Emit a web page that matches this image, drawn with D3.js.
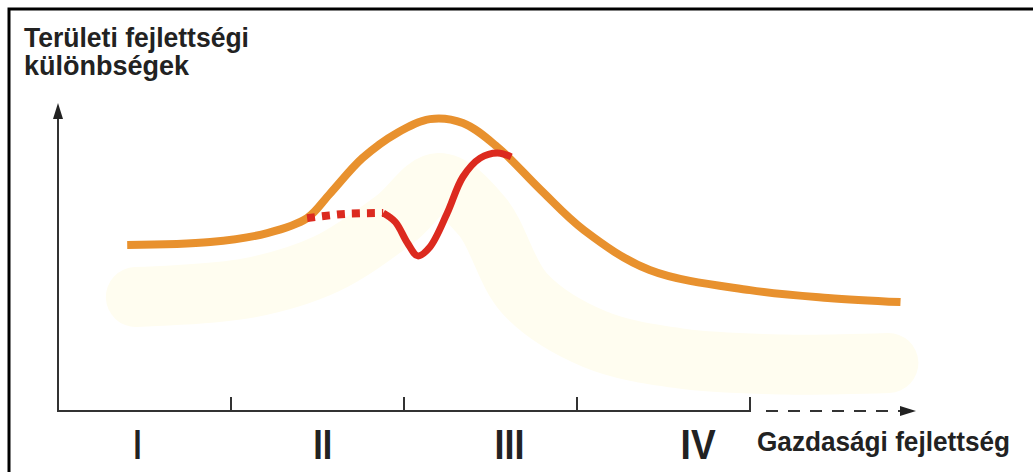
<!DOCTYPE html>
<html>
<head>
<meta charset="utf-8">
<script src="https://cdn.jsdelivr.net/npm/d3@7"></script>
<style>
  body { margin: 0; background: #fff; }
  svg { display: block; }
  text { font-family: "Liberation Sans Narrow", "Arial Narrow", "Liberation Sans", Arial, sans-serif; font-weight: bold; fill: #222; }
</style>
</head>
<body>
<div id="drawing"></div>
<script>
// Chart data (x in development stages, y in relative disparity units)
const orangeX = [0.40, 0.88, 1.21, 1.44, 1.57, 1.76, 1.96, 2.15, 2.34, 2.54, 2.79, 3.04, 3.42, 4.00, 4.45, 4.87];
const orangeY = [5.53, 5.63, 5.93, 6.43, 7.23, 8.43, 9.27, 9.73, 9.60, 8.80, 7.37, 6.03, 4.70, 4.03, 3.77, 3.63];

const redDotX = [1.44, 1.66, 1.88];
const redDotY = [6.43, 6.57, 6.60];

const redX = [1.88, 1.95, 2.02, 2.08, 2.15, 2.25, 2.34, 2.44, 2.54, 2.62];
const redY = [6.60, 6.30, 5.60, 5.17, 5.47, 6.60, 7.80, 8.43, 8.60, 8.47];

// faint yellow brush stroke in the background
const hazeX = [0.45, 1.10, 1.55, 1.95, 2.20, 2.45, 2.70, 3.10, 3.60, 4.20, 4.80];
const hazeY = [3.80, 4.10, 4.90, 6.40, 7.60, 6.50, 3.90, 2.40, 1.75, 1.55, 1.60];

const stageTicks = [1, 2, 3, 4];
const stageLabels = ["I", "II", "III", "IV"];
const stageLabelPos = [0.46, 1.53, 2.61, 3.70];

const yTitle = ["Területi fejlettségi", "különbségek"];
const xTitle = "Gazdasági fejlettség";

// SVG
const svgWidth = 1033;
const svgHeight = 472;

const svg = d3.select("#drawing")
  .append("svg")
  .attr("width", svgWidth)
  .attr("height", svgHeight);

// scales
const x = d3.scaleLinear().domain([0, 4]).range([58, 750]);
const y = d3.scaleLinear().domain([0, 10]).range([411, 111]);

// frame (top + left only, the rest is cut off)
svg.append("path")
  .attr("d", `M9,${svgHeight} L9,9 L${svgWidth},9`)
  .attr("fill", "none")
  .attr("stroke", "#000")
  .attr("stroke-width", 3);

const lineGen = d3.line()
  .x(d => x(d[0]))
  .y(d => y(d[1]))
  .curve(d3.curveCatmullRom.alpha(0.5));

const zip = (a, b) => a.map((v, i) => [v, b[i]]);

// background haze
svg.append("path")
  .attr("d", lineGen(zip(hazeX, hazeY)))
  .attr("fill", "none")
  .attr("stroke", "#fffdf0")
  .attr("stroke-width", 60)
  .attr("stroke-linecap", "round")
  .attr("stroke-linejoin", "round");

// axes
const axisColor = "#333";

// y axis with arrow
svg.append("line")
  .attr("x1", x(0)).attr("y1", y(0) + 1)
  .attr("x2", x(0)).attr("y2", 114)
  .attr("stroke", axisColor).attr("stroke-width", 2);
svg.append("path")
  .attr("d", `M${x(0)},103 L${x(0) - 5},119 L${x(0) + 5},119 Z`)
  .attr("fill", "#222");

// x axis solid part
svg.append("line")
  .attr("x1", x(0) - 1).attr("y1", y(0))
  .attr("x2", x(4) + 1).attr("y2", y(0))
  .attr("stroke", axisColor).attr("stroke-width", 2);

svg.selectAll(".tick")
  .data(stageTicks)
  .enter()
  .append("line")
  .attr("class", "tick")
  .attr("x1", d => x(d)).attr("x2", d => x(d))
  .attr("y1", y(0)).attr("y2", y(0) - 14)
  .attr("stroke", axisColor).attr("stroke-width", 2);

// x axis dashed continuation
svg.append("line")
  .attr("x1", 766).attr("y1", y(0))
  .attr("x2", 900).attr("y2", y(0))
  .attr("stroke", axisColor).attr("stroke-width", 2)
  .attr("stroke-dasharray", "12,10");
svg.append("path")
  .attr("d", `M916,${y(0)} L900,${y(0) - 5} L900,${y(0) + 5} Z`)
  .attr("fill", "#222");

// curves
svg.append("path")
  .attr("d", lineGen(zip(orangeX, orangeY)))
  .attr("fill", "none")
  .attr("stroke", "#e8912e")
  .attr("stroke-width", 8)
  .attr("stroke-linejoin", "round");

svg.append("path")
  .attr("d", lineGen(zip(redDotX, redDotY)))
  .attr("fill", "none")
  .attr("stroke", "#dc2a1f")
  .attr("stroke-width", 8)
  .attr("stroke-dasharray", "8,7");

svg.append("path")
  .attr("d", lineGen(zip(redX, redY)))
  .attr("fill", "none")
  .attr("stroke", "#dc2a1f")
  .attr("stroke-width", 7)
  .attr("stroke-linejoin", "round");

// y title
svg.append("text")
  .attr("x", 24).attr("y", 47)
  .attr("font-size", 27)
  .attr("textLength", 225)
  .attr("lengthAdjust", "spacingAndGlyphs")
  .text(yTitle[0]);
svg.append("text")
  .attr("x", 24).attr("y", 75)
  .attr("font-size", 27)
  .attr("textLength", 165)
  .attr("lengthAdjust", "spacingAndGlyphs")
  .text(yTitle[1]);

// stage labels
svg.selectAll(".stage")
  .data(stageLabels)
  .enter()
  .append("text")
  .attr("class", "stage")
  .attr("x", (d, i) => x(stageLabelPos[i]))
  .attr("y", 459)
  .attr("text-anchor", "middle")
  .attr("font-size", 43)
  .attr("textLength", d => d.length * 8 + (d.length - 1) * 3 + (d === "IV" ? 16 : 0))
  .attr("lengthAdjust", "spacingAndGlyphs")
  .text(d => d);

// x title
svg.append("text")
  .attr("x", 757).attr("y", 451)
  .attr("font-size", 28)
  .attr("textLength", 253)
  .attr("lengthAdjust", "spacingAndGlyphs")
  .text(xTitle);
</script>
</body>
</html>
